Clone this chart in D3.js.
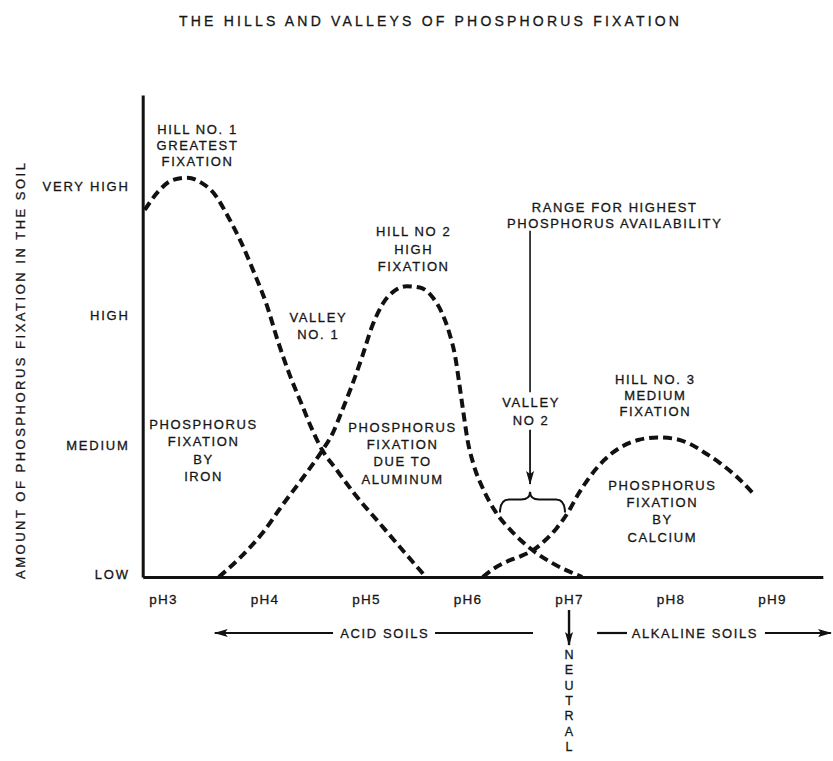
<script src="https://d3js.org/d3.v7.min.js"></script>
<style>
  body { margin: 0; background: #fff; }
  text { font-family: "Liberation Sans", Arial, sans-serif; fill: #161616; stroke: #161616; stroke-width: 0.3; }
</style>
<body>
<script>
// Dimensions
const width  = 833;
const height = 761;

// Axis ticks
const phTicks     = [3, 4, 5, 6, 7, 8, 9];
const phLabels    = ["pH3", "pH4", "pH5", "pH6", "pH7", "pH8", "pH9"];
const levelTicks  = [0, 1, 2, 3];
const levelLabels = ["LOW", "MEDIUM", "HIGH", "VERY HIGH"];

// Curves (pH, fixation level 0=low .. 3=very high)
const ironPH    = [2.82, 2.95, 3.09, 3.24, 3.38, 3.51, 3.64, 3.77, 3.90, 4.02, 4.13, 4.25, 4.37, 4.47, 4.57, 4.70, 4.89, 5.14, 5.38, 5.59];
const ironLevel = [2.84, 2.98, 3.07, 3.09, 3.05, 2.96, 2.79, 2.59, 2.35, 2.11, 1.83, 1.56, 1.33, 1.14, 0.98, 0.84, 0.64, 0.41, 0.19, 0];

const aluPH    = [3.55, 3.76, 3.98, 4.18, 4.38, 4.57, 4.67, 4.76, 4.86, 4.96, 5.06, 5.17, 5.29, 5.40, 5.53, 5.65, 5.75, 5.82, 5.88, 5.92, 5.96, 6.00, 6.06, 6.16, 6.28, 6.44, 6.62, 6.83, 7.13];
const aluLevel = [0, 0.15, 0.34, 0.56, 0.77, 0.98, 1.11, 1.28, 1.48, 1.70, 1.94, 2.12, 2.22, 2.25, 2.24, 2.17, 2.04, 1.89, 1.70, 1.49, 1.27, 1.06, 0.87, 0.67, 0.50, 0.35, 0.22, 0.11, 0];

const calPH    = [6.15, 6.25, 6.39, 6.52, 6.65, 6.76, 6.88, 6.99, 7.09, 7.20, 7.34, 7.50, 7.68, 7.87, 8.04, 8.19, 8.34, 8.49, 8.66, 8.81];
const calLevel = [0, 0.06, 0.12, 0.16, 0.21, 0.28, 0.38, 0.50, 0.64, 0.77, 0.90, 1.00, 1.06, 1.08, 1.07, 1.03, 0.96, 0.88, 0.77, 0.65];

// Text
const title       = "THE HILLS AND VALLEYS OF PHOSPHORUS FIXATION";
const yTitle      = "AMOUNT OF PHOSPHORUS FIXATION IN THE SOIL";
const hill1Text   = ["HILL NO. 1", "GREATEST", "FIXATION"];
const hill2Text   = ["HILL NO 2", "HIGH", "FIXATION"];
const hill3Text   = ["HILL NO. 3", "MEDIUM", "FIXATION"];
const valley1Text = ["VALLEY", "NO. 1"];
const valley2Text = ["VALLEY", "NO 2"];
const rangeText   = ["RANGE FOR HIGHEST", "PHOSPHORUS AVAILABILITY"];
const ironText    = ["PHOSPHORUS", "FIXATION", "BY", "IRON"];
const aluText     = ["PHOSPHORUS", "FIXATION", "DUE TO", "ALUMINUM"];
const calText     = ["PHOSPHORUS", "FIXATION", "BY", "CALCIUM"];
const acidText    = "ACID SOILS";
const alkText     = "ALKALINE SOILS";
const neutralText = "NEUTRAL";

const svg = d3.select("body").append("svg")
  .attr("width", width)
  .attr("height", height);

svg.append("defs").append("marker")
  .attr("id", "head")
  .attr("viewBox", "0 0 14 8")
  .attr("refX", 13).attr("refY", 4)
  .attr("markerWidth", 14).attr("markerHeight", 8)
  .attr("markerUnits", "userSpaceOnUse")
  .attr("orient", "auto")
  .append("path").attr("d", "M0,0L14,4L0,8L3,4z").attr("fill", "#111");

// Scales
const x = d3.scaleLinear().domain([2.8, 9.5]).range([142.7, 822.8]);
const y = d3.scaleLinear().domain([0, 3.73]).range([577, 95]);

// Title
svg.append("text")
  .attr("x", 429).attr("y", 26)
  .attr("text-anchor", "middle")
  .attr("font-size", 14)
  .attr("textLength", 500)
  .attr("lengthAdjust", "spacing")
  .text(title);

// Y axis title
svg.append("text")
  .attr("transform", "translate(25," + 371 + ") rotate(-90)")
  .attr("text-anchor", "middle")
  .attr("font-size", 13)
  .attr("textLength", 416)
  .attr("lengthAdjust", "spacing")
  .text(yTitle);

// X axis
const xAxis = svg.append("g")
  .attr("transform", "translate(0," + y(0) + ")")
  .call(d3.axisBottom(x).tickValues(phTicks).tickFormat((d, i) => phLabels[i])
    .tickSize(0).tickSizeOuter(0).tickPadding(17));
xAxis.select(".domain").attr("stroke", "#111").attr("stroke-width", 3);
xAxis.selectAll("text").attr("font-size", 13.5).attr("letter-spacing", 1.2)
  .attr("fill", "#161616").attr("stroke", "#161616").attr("stroke-width", 0.3)
  .attr("font-family", "Liberation Sans, Arial, sans-serif");

// Y axis
const yAxis = svg.append("g")
  .attr("transform", "translate(" + x(2.8) + ",0)")
  .call(d3.axisLeft(y).tickValues(levelTicks).tickFormat((d, i) => levelLabels[i])
    .tickSize(0).tickSizeOuter(0).tickPadding(13));
yAxis.select(".domain").attr("stroke", "#111").attr("stroke-width", 3);
yAxis.selectAll("text").attr("font-size", 13).attr("letter-spacing", 1.8)
  .attr("fill", "#161616").attr("stroke", "#161616").attr("stroke-width", 0.3)
  .attr("dy", "0.1em")
  .attr("font-family", "Liberation Sans, Arial, sans-serif");

// Curves
const line = d3.line().x(d => x(d[0])).y(d => y(d[1])).curve(d3.curveMonotoneX);
[[ironPH, ironLevel], [aluPH, aluLevel], [calPH, calLevel]].forEach(function(s) {
  svg.append("path")
    .datum(d3.zip(s[0], s[1]))
    .attr("fill", "none")
    .attr("stroke", "#111")
    .attr("stroke-width", 4)
    .attr("stroke-dasharray", "9,5")
    .attr("d", line);
});

// Multi-line labels
function block(lines, cx, cy, gap) {
  svg.append("g").selectAll("text").data(lines).join("text")
    .attr("x", cx + 1)
    .attr("y", (d, i) => cy + i * gap)
    .attr("text-anchor", "middle")
    .attr("dominant-baseline", "central")
    .attr("font-size", 13)
    .attr("letter-spacing", 1.6)
    .text(d => d);
}
block(hill1Text, x(3.33), y(3.46), 16);
block(valley1Text, x(4.52), y(2.01), 17.5);
block(hill2Text, x(5.46), y(2.67), 17.5);
block(ironText, x(3.39), y(1.18), 17.3);
block(aluText, x(5.35), y(1.16), 17.3);
block(rangeText, x(7.44), y(2.86), 16);
block(valley2Text, x(6.616), y(1.35), 18);
block(hill3Text, x(7.84), y(1.53), 16);
block(calText, x(7.91), y(0.71), 17.3);

// Range arrow + brace
svg.append("line")
  .attr("x1", x(6.616)).attr("x2", x(6.616))
  .attr("y1", y(2.68)).attr("y2", y(1.43))
  .attr("stroke", "#111").attr("stroke-width", 1.6);
svg.append("line")
  .attr("x1", x(6.616)).attr("x2", x(6.616))
  .attr("y1", y(1.14)).attr("y2", y(0.72))
  .attr("stroke", "#111").attr("stroke-width", 1.8)
  .attr("marker-end", "url(#head)");

const bx1 = x(6.32), bx2 = x(6.96), bm = x(6.616);
const bTop = y(0.66), bMid = y(0.6), bBot = y(0.5);
svg.append("path")
  .attr("d", "M" + bx1 + "," + bBot +
    "Q" + bx1 + "," + bMid + " " + (bx1 + 9) + "," + bMid +
    "L" + (bm - 9) + "," + bMid +
    "Q" + bm + "," + bMid + " " + bm + "," + bTop +
    "Q" + bm + "," + bMid + " " + (bm + 9) + "," + bMid +
    "L" + (bx2 - 9) + "," + bMid +
    "Q" + bx2 + "," + bMid + " " + bx2 + "," + bBot)
  .attr("fill", "none").attr("stroke", "#111").attr("stroke-width", 2);

// Acid / alkaline arrows under the axis
const soilY = y(0) + 56;
function soilLine(a, b, head) {
  const l = svg.append("line")
    .attr("x1", x(a)).attr("x2", x(b))
    .attr("y1", soilY).attr("y2", soilY)
    .attr("stroke", "#111").attr("stroke-width", 2.2);
  if (head) l.attr("marker-end", "url(#head)");
}
function soilLabel(t, c) {
  svg.append("text")
    .attr("x", x(c)).attr("y", soilY)
    .attr("text-anchor", "middle").attr("dominant-baseline", "central")
    .attr("font-size", 13).attr("letter-spacing", 1.6)
    .text(t);
}
soilLine(4.675, 3.51, true);
soilLine(5.68, 6.645, false);
soilLabel(acidText, 5.185);
soilLine(7.276, 7.571, false);
soilLine(8.93, 9.58, true);
soilLabel(alkText, 8.24);

// Neutral arrow at pH 7
svg.append("line")
  .attr("x1", x(7)).attr("x2", x(7))
  .attr("y1", y(0) + 33).attr("y2", y(0) + 68)
  .attr("stroke", "#111").attr("stroke-width", 2.4)
  .attr("marker-end", "url(#head)");
svg.append("g").selectAll("text").data(neutralText.split("")).join("text")
  .attr("x", x(7))
  .attr("y", (d, i) => y(0) + 78 + i * 15.3)
  .attr("text-anchor", "middle").attr("dominant-baseline", "central")
  .attr("font-size", 12.5)
  .text(d => d);
</script>
</body>
